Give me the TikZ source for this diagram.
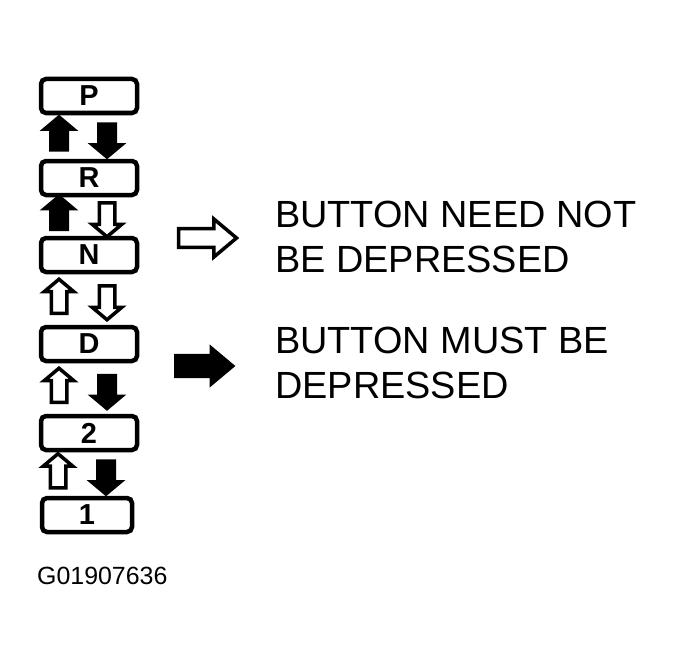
\documentclass[tikz,border=0pt]{standalone}
\usepackage{fontspec}
\setmainfont{Liberation Sans}
\usetikzlibrary{positioning,calc,shapes.arrows}

\begin{document}
\begin{tikzpicture}[x=1bp,y=-1bp,on grid,node distance=82bp,
    gear/.style={draw,line width=4.5bp,rounded corners=5bp,minimum width=96bp,
        minimum height=34bp,inner sep=0pt,font=\bfseries\fontsize{29}{29}\selectfont},
    blk/.style={single arrow,draw,line width=2.5bp,inner xsep=0pt,inner ysep=7.5bp,
        minimum height=34bp,minimum width=29bp,single arrow tip angle=100},
    upfull/.style={blk,fill=black,rotate=90},
    dnfull/.style={blk,fill=black,rotate=270},
    upopen/.style={blk,fill=white,line width=3.5bp,inner ysep=6bp,minimum width=26bp,rotate=90},
    dnopen/.style={blk,fill=white,line width=3.5bp,inner ysep=6bp,minimum width=26bp,rotate=270},
    note/.style={anchor=north west,inner sep=0pt,align=left,font=\fontsize{38}{45}\selectfont}]
    \useasboundingbox (0,0) rectangle (679,659);
                    % selector positions
                    \node[gear] (P) at (89,96) {P};
                    \node[gear] (R) [below=82bp of P] {R};
                    \node[gear] (N) [below=77bp of R] {N};
                    \node[gear] (D) [below=89bp of N] {D};
                    \node[gear] (2) [below=89bp of D] {2};
                    \node[gear,minimum width=90bp,xshift=-2bp] (1) [below=82bp of 2] {1};
                    % shift arrows between positions
                    \node[upfull] (P-R-l) at ($(P.south)!.5!(R.north)+(-30,0)$) {};
                    \node[dnfull] (P-R-r) at ($(P.south)!.5!(R.north)+(18,0)$) {};
                    \node[upfull] (R-N-l) at ($(R.south)!.5!(N.north)+(-30,0)$) {};
                    \node[dnopen] (R-N-r) at ($(R.south)!.5!(N.north)+(18,0)$) {};
                    \node[upopen] (N-D-l) at ($(N.south)!.5!(D.north)+(-30,0)$) {};
                    \node[dnopen] (N-D-r) at ($(N.south)!.5!(D.north)+(18,0)$) {};
                    \node[upopen] (D-2-l) at ($(D.south)!.5!(2.north)+(-30,0)$) {};
                    \node[dnfull] (D-2-r) at ($(D.south)!.5!(2.north)+(18,0)$) {};
                    \node[upopen] (2-1-l) at ($(2.south)!.5!(1.north)+(-30,0)$) {};
                    \node[dnfull] (2-1-r) at ($(2.south)!.5!(1.north)+(18,0)$) {};
                    % legend
                    \node[blk,fill=white,line width=3.5bp,inner ysep=5bp,minimum height=58bp,
                        minimum width=38bp,single arrow tip angle=80] (free) at (202,238) {};
                    \node[blk,fill=black,inner ysep=8bp,minimum height=58bp,
                        minimum width=38bp,single arrow tip angle=80] (push) at (198,366) {};
                    \node[note] (free-txt) at (275,201) {BUTTON NEED NOT\\BE DEPRESSED};
                    \node[note] (push-txt) at (275,327) {BUTTON MUST BE\\DEPRESSED};
                    \node[anchor=north west,inner sep=0pt,font=\fontsize{25}{25}\selectfont] (code) at (37,567) {G01907636};
                \end{tikzpicture}
\end{document}
